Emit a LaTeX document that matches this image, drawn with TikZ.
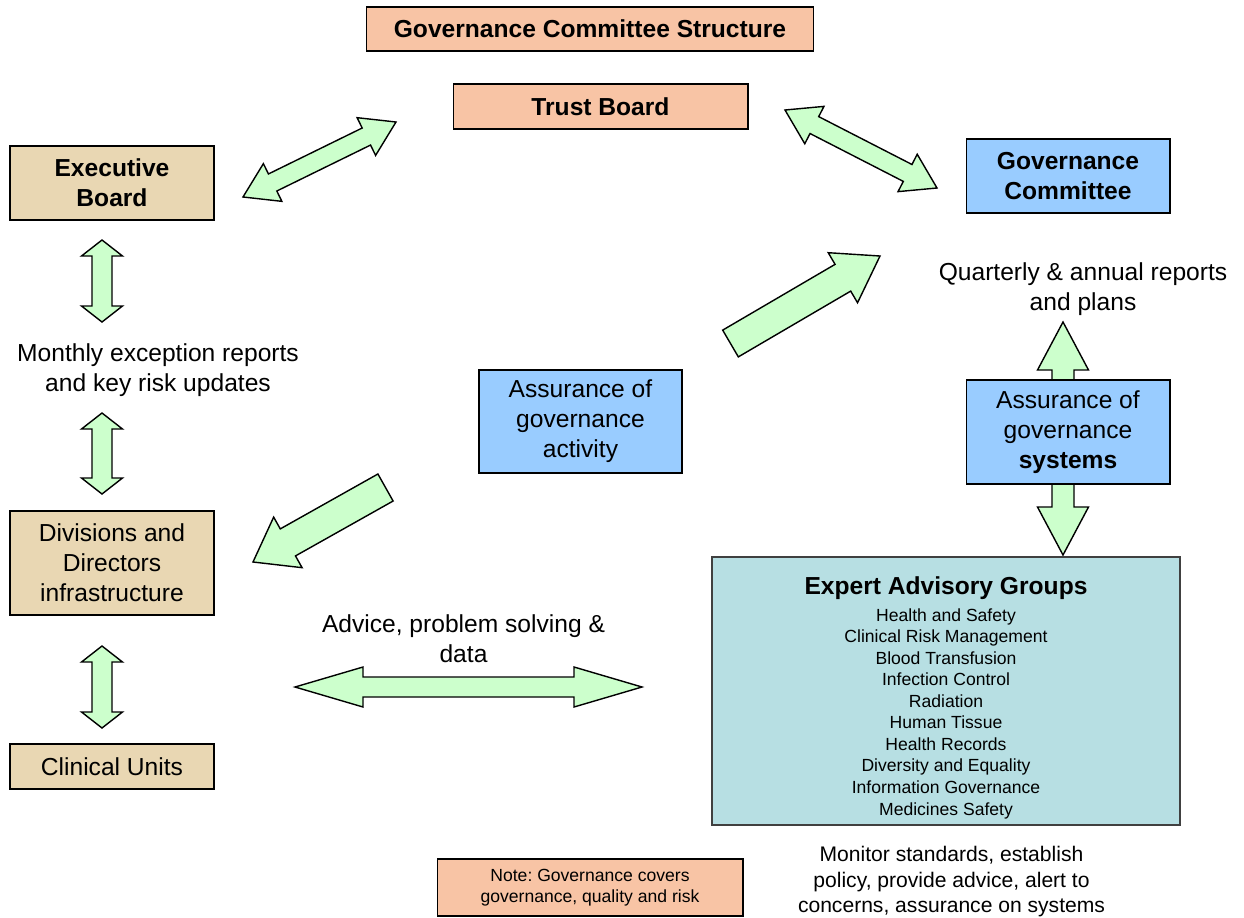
\documentclass[tikz,border=0pt]{standalone}
\usepackage{fontspec}
\setmainfont{Liberation Sans}
\frenchspacing
\definecolor{salmon}{HTML}{F8C4A5}
\definecolor{tan}{HTML}{E9D7B3}
\definecolor{skyblue}{HTML}{99CCFF}
\definecolor{teal}{HTML}{B7DFE3}
\definecolor{arrowgreen}{HTML}{CCFFCC}
\definecolor{darkframe}{HTML}{404040}
% double block arrow: x1,y1,x2,y2, shaft half, head half, head length
\newcommand{\DblArr}[7]{%
  \pgfmathsetmacro\aang{atan2(-(#4-#2),#3-#1)}%
  \pgfmathsetmacro\alen{veclen(#3-#1,#4-#2)}%
  \draw[blockarrow,shift={(#1,#2)},rotate=\aang]
    (0,0) -- (#7,#6) -- (#7,#5) -- ({\alen-#7},#5) -- ({\alen-#7},#6) -- (\alen,0)
    -- ({\alen-#7},-#6) -- ({\alen-#7},-#5) -- (#7,-#5) -- (#7,-#6) -- cycle;}
% single block arrow: tail x,y, tip x,y, shaft half, head half, head length
\newcommand{\SglArr}[7]{%
  \pgfmathsetmacro\aang{atan2(-(#4-#2),#3-#1)}%
  \pgfmathsetmacro\alen{veclen(#3-#1,#4-#2)}%
  \draw[blockarrow,shift={(#1,#2)},rotate=\aang]
    (0,#5) -- ({\alen-#7},#5) -- ({\alen-#7},#6) -- (\alen,0)
    -- ({\alen-#7},-#6) -- ({\alen-#7},-#5) -- (0,-#5) -- cycle;}
\begin{document}
\begin{tikzpicture}[x=0.02cm,y=-0.02cm,
  box/.style={draw=black, line width=0.6pt, inner sep=2pt, align=center,
    font=\fontsize{14}{17}\selectfont},
  bbox/.style={box, font=\fontsize{14}{17}\selectfont\bfseries},
  blockarrow/.style={draw=black, fill=arrowgreen, line width=0.8pt, line join=miter},
  lbl/.style={align=center, inner sep=0pt, font=\fontsize{14}{17}\selectfont},
  item/.style={anchor=base, inner sep=0pt, font=\fontsize{10}{12}\selectfont}]
\useasboundingbox (0,0) rectangle (1244,917);

% ---- block arrows (drawn first, boxes cover their ends)
\DblArr{243}{197}{396}{122}{9.5}{21}{33}
\DblArr{785}{110}{937}{188}{9.5}{21}{33}
\SglArr{730.5}{343.5}{880}{256}{15.5}{29}{43}
\SglArr{385.5}{487.5}{253}{562}{15.5}{29}{40}
\DblArr{295}{687}{642}{687}{10}{20}{68}
\DblArr{102}{240}{102}{322}{10}{20.5}{16}
\DblArr{102}{413}{102}{494}{10}{20.5}{16}
\DblArr{102}{646}{102}{728}{10}{20.5}{16}
\DblArr{1063}{322}{1063}{555}{11}{25.5}{48}

% ---- boxes
\node[bbox, fill=salmon, minimum width=8.96cm, minimum height=0.88cm] (title) at (590,29) {Governance Committee Structure};
\node[bbox, fill=salmon, minimum width=5.9cm, minimum height=0.9cm] (trust) at (600.5,106.5) {Trust Board};
\node[bbox, fill=tan, minimum width=4.08cm, minimum height=1.48cm] (exec) at (112,183) {Executive\\Board};
\node[bbox, fill=skyblue, minimum width=4.08cm, minimum height=1.48cm] (gov) at (1068,176) {Governance\\Committee};
\node[box, fill=skyblue, minimum width=4.06cm, minimum height=2.06cm] (assa) at (580.5,421.5) {Assurance of\\governance\\activity};
\node[box, fill=skyblue, minimum width=4.08cm, minimum height=2.08cm] (asss) at (1068,432) {Assurance of\\governance\\\textbf{systems}};
\node[box, fill=tan, minimum width=4.08cm, minimum height=2.08cm] (div) at (112,563) {Divisions and\\Directors\\infrastructure};
\node[box, fill=tan, minimum width=4.08cm, minimum height=0.9cm] (clin) at (112,766.5) {Clinical Units};
\node[draw=darkframe, line width=1.1pt, fill=teal, minimum width=9.36cm, minimum height=5.36cm, inner sep=0pt] (eag) at (946,691) {};
\node[box, fill=salmon, minimum width=6.12cm, minimum height=1.14cm, font=\fontsize{10}{12}\selectfont] (note) at (590,887.5) {Note: Governance covers\\governance, quality and risk};

% ---- expert advisory groups text
\node[anchor=base, inner sep=0pt, font=\fontsize{14}{17}\selectfont\bfseries] (eagtitle) at (946,594) {Expert Advisory Groups};
\foreach \t [count=\i] in {Health and Safety, Clinical Risk Management, Blood Transfusion,
  Infection Control, Radiation, Human Tissue, Health Records, Diversity and Equality,
  Information Governance, Medicines Safety}
  \node[item] (eag\i) at (946,{621+21.56*(\i-1)}) {\t};

% ---- free labels
\node[lbl] (quart) at (1083,289) {Quarterly \& annual reports\\and plans};
\node[lbl] (month) at (158,370) {Monthly exception reports\\and key risk updates};
\node[lbl] (advice) at (463.5,639) {Advice, problem solving \&\\data};
\node[lbl, font=\fontsize{12}{14.5}\selectfont] (monitor) at (951.5,882) {Monitor standards, establish\\policy, provide advice, alert to\\concerns, assurance on systems};
\end{tikzpicture}
\end{document}
